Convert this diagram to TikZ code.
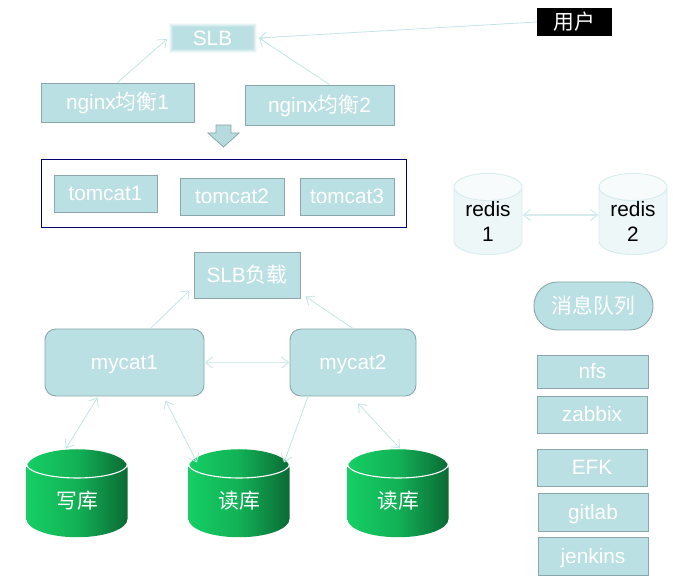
\documentclass[tikz,border=0pt]{standalone}
\usepackage{fontspec}
\setmainfont{Liberation Sans}
\newfontfamily\cjk{Noto Sans CJK SC}
\usetikzlibrary{shapes.geometric, arrows.meta}
\definecolor{boxfill}{HTML}{BBE0E3}
\definecolor{boxedge}{HTML}{8AA8AB}
\definecolor{linkcol}{HTML}{C4E4E7}
\definecolor{dbleft}{HTML}{15CF64}
\definecolor{dbright}{HTML}{0B6A35}
\tikzset{
    label font/.style={font=\fontsize{20.8}{25}\selectfont},
    box/.style={draw=boxedge, fill=boxfill, text=white, line width=0.9pt, inner sep=0pt, text height=17.5pt, text depth=2.5pt, label font},
    link/.style={draw=linkcol, line width=0.8pt, -{Straight Barb[length=7pt, width=11pt]}},
    dlink/.style={link, {Straight Barb[length=7pt, width=11pt]}-{Straight Barb[length=7pt, width=11pt]}},
    wide link/.style={dlink, line width=1.3pt, draw=linkcol!70!white},
    dbase/.style={shape=cylinder, shape border rotate=90, shape aspect=0.88, inner sep=0pt,
        minimum width=101pt, minimum height=88pt, text=white, label font,
        left color=dbleft, right color=dbright, middle color=dbleft!70!dbright},
    cache/.style={shape=cylinder, shape border rotate=90, shape aspect=0.6, inner sep=0pt,
        minimum width=68pt, minimum height=69pt, align=center, label font,
        draw=linkcol!70!white, line width=0.9pt, cylinder uses custom fill,
        cylinder body fill=boxfill!25!white, cylinder end fill=boxfill!12!white},
}

\begin{document}
\begin{tikzpicture}[x=1pt, y=-1pt]
    \useasboundingbox (0,0) rectangle (673,577);
% Entry
    \node[box, draw=none, minimum width=80pt, minimum height=22pt,
        preaction={draw=boxfill, line width=8pt, opacity=0.15},
        preaction={draw=boxfill, line width=6pt, opacity=0.25},
        preaction={draw=boxfill, line width=4pt, opacity=0.4},
        preaction={draw=boxfill, line width=2pt, opacity=0.6}] (slb) at (212.5,38) {SLB};
    \node[fill=black, text=white, inner sep=0pt, minimum width=75pt, minimum height=28pt, label font] (user) at (574.5,22) {\cjk 用户};
    \node[box, minimum width=153pt, minimum height=39pt] (nginxA) at (117.5,102.5) {nginx{\cjk 均衡}1};
    \node[box, minimum width=149pt, minimum height=40pt] (nginxB) at (319.5,105) {nginx{\cjk 均衡}2};
    \draw[boxedge, fill=boxfill!90!boxedge, line width=0.8pt] (216,125) -- (231,125) -- (231,133) -- (239,133) -- (223.5,147) -- (208,133) -- (216,133) -- cycle;
% Tomcat group
    \node[draw=blue!45!black, line width=0.9pt, inner sep=0pt, minimum width=365pt, minimum height=68pt] (tomcats) at (223.5,193) {};
    \node[box, minimum width=103pt, minimum height=37pt] (tomcatA) at (105.5,193.5) {tomcat1};
    \node[box, minimum width=104pt, minimum height=37pt] (tomcatB) at (232,196.5) {tomcat2};
    \node[box, minimum width=94pt, minimum height=37pt] (tomcatC) at (347,196.5) {tomcat3};
% Database layer
    \node[box, minimum width=106pt, minimum height=46pt] (slbload) at (247,275) {SLB{\cjk 负载}};
    \node[box, rounded corners=11pt, minimum width=159pt, minimum height=67pt] (mycatA) at (124.5,362.5) {mycat1};
    \node[box, rounded corners=11pt, minimum width=126pt, minimum height=67pt] (mycatB) at (353,362.5) {mycat2};
    \node[dbase] (dbA) at (77,502.5) {\raisebox{5pt}{\cjk 写库}};
    \node[dbase] (dbB) at (239,502.5) {\raisebox{5pt}{\cjk 读库}};
    \node[dbase] (dbC) at (398,502.5) {\raisebox{5pt}{\cjk 读库}};
    \foreach \db in {dbA,dbB,dbC}
        \draw[white, line width=1.1pt] ([shift={(-50.5,-38.5)}]\db.center) arc[start angle=180, end angle=0, x radius=50.5, y radius=14];
% Side services
    \node[cache] (redisA) at (488,221) {redis\\1};
    \node[cache] (redisB) at (633,221) {redis\\2};
    \node[box, rounded corners=23.5pt, minimum width=119pt, minimum height=48pt] (queue) at (593.5,306) {\cjk 消息队列};
    \node[box, minimum width=111pt, minimum height=33pt] (nfs) at (592.5,371.5) {nfs};
    \node[box, minimum width=110pt, minimum height=37pt] (zabbix) at (592,414.5) {zabbix};
    \node[box, minimum width=110pt, minimum height=37pt] (efk) at (592,467.5) {EFK};
    \node[box, minimum width=110pt, minimum height=38pt] (gitlab) at (593,512) {gitlab};
    \node[box, minimum width=110pt, minimum height=38pt] (jenkins) at (593,556) {jenkins};
% Connectors
    \draw[link] (user.west) -- ([xshift=6pt]slb.east);
    \draw[link] (nginxA.north) -- ([shift={(-5,1)}]slb.west);
    \draw[link] ([xshift=10pt]nginxB.north) -- ([xshift=6pt]slb.east);
    \draw[link] ([xshift=26pt]mycatA.north) -- ([shift={(-4,-8)}]slbload.south west);
    \draw[link] (mycatB.north) -- ([shift={(5,-2)}]slbload.south east);
    \draw[wide link] (mycatA.east) -- (mycatB.west);
    \draw[dlink] ([shift={(-27,1)}]mycatA.south) -- ([shift={(-11,-54)}]dbA.center);
    \draw[dlink] ([shift={(41,4)}]mycatA.south) -- ([shift={(-42,-40)}]dbB.center);
    \draw[link] ([xshift=-45pt]mycatB.south) -- ([shift={(45,-40)}]dbB.center);
    \draw[dlink] ([shift={(5,7)}]mycatB.south) -- ([shift={(2,-54)}]dbC.center);
    \draw[wide link] (redisA.east |- 0,215) -- (redisB.west |- 0,215);
\end{tikzpicture}
\end{document}
